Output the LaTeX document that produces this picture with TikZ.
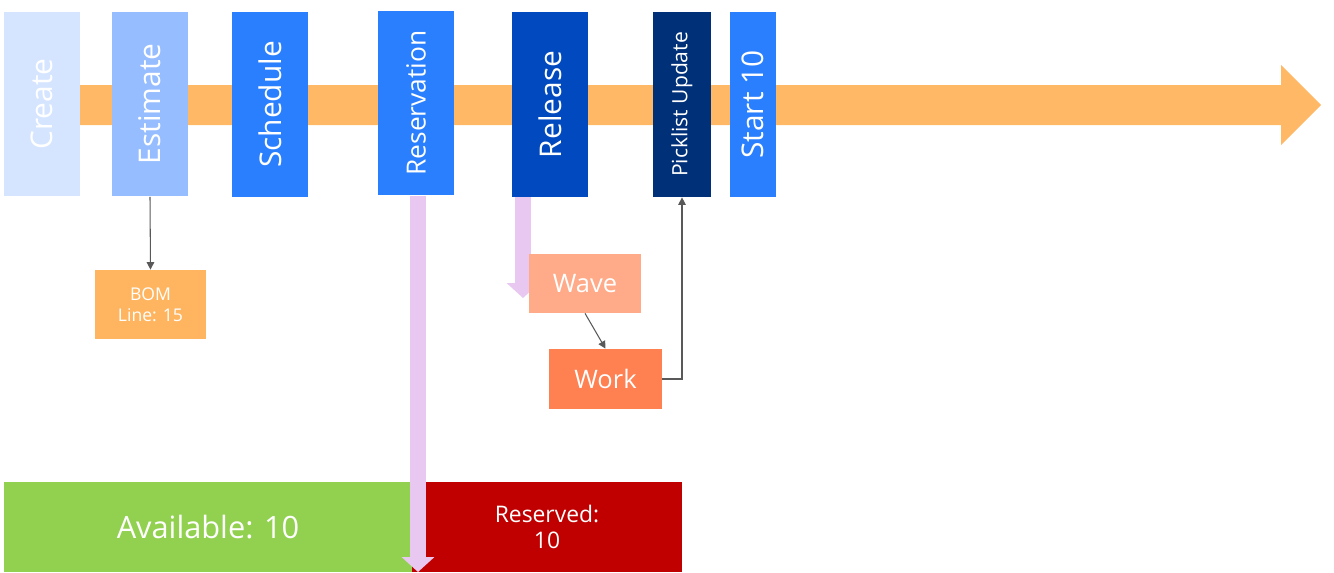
\documentclass[tikz,border=0pt]{standalone}
\usepackage{fontspec}
\setmainfont{Open Sans}
\usepackage{graphicx}
\usepackage{xcolor}
\usetikzlibrary{arrows.meta, positioning}

\definecolor{createblue}{HTML}{D5E5FF}
\definecolor{estblue}{HTML}{96BDFF}
\definecolor{midblue}{HTML}{2A7FFF}
\definecolor{relblue}{HTML}{0049BE}
\definecolor{navy}{HTML}{003078}
\definecolor{lineorange}{HTML}{FFB966}
\definecolor{bomorange}{HTML}{FFB55F}
\definecolor{wavesalmon}{HTML}{FFAA88}
\definecolor{workorange}{HTML}{FF8050}
\definecolor{availgreen}{HTML}{92D050}
\definecolor{resred}{HTML}{C00000}
\definecolor{lilac}{HTML}{E8C8F0}
\definecolor{linkgray}{HTML}{595959}

\begin{document}
\begin{tikzpicture}[
        x=0.02cm, y=-0.02cm,
        stage/.style={rectangle, minimum width=1.52cm, minimum height=3.7cm, inner sep=0pt, text=white, font=\fontsize{17}{20}\selectfont},
        task/.style={rectangle, inner sep=0pt, align=center, text=white, font=\fontsize{14.5}{17}\selectfont},
        stock/.style={rectangle, inner sep=0pt, minimum height=1.8cm, align=center, text=white},
        flow/.style={-{Triangle[width=0.64cm, length=0.3cm]}, line width=0.32cm, draw=lilac},
        link/.style={-{Triangle[width=1.5mm, length=1.5mm]}, semithick, draw=linkgray}
        ]
        \useasboundingbox (0,0) rectangle (1334,572);

        % Timeline arrow (Back)
        \fill [lineorange] (80,85) -- (1281,85) -- (1281,65) -- (1321,105) -- (1281,145) -- (1281,125) -- (80,125) -- cycle;

        % Order stages (Top)
        \node (create) [stage, fill=createblue] at (42,104) {\rotatebox{90}{Create}};
        \node (estimate) [stage, fill=estblue] at (150,104) {\rotatebox{90}{Estimate}};
        \node (schedule) [stage, fill=midblue] at (270,104.5) {\rotatebox{90}{Schedule}};
        \node (reserve) [stage, fill=midblue, font=\fontsize{15}{18}\selectfont] at (416,103) {\rotatebox{90}{Reservation}};
        \node (release) [stage, fill=relblue] at (550,104.5) {\rotatebox{90}{Release}};
        \node (picklist) [stage, fill=navy, minimum width=1.16cm, font=\fontsize{12}{14}\selectfont] at (682,104.5) {\rotatebox{90}{Picklist Update}};
        \node (start) [stage, fill=midblue, minimum width=0.92cm] at (753,104.5) {\rotatebox{90}{Start 10}};

        % Inventory (Bottom)
        \node (avail) [stock, fill=availgreen, minimum width=8.16cm, font=\fontsize{17.5}{20}\selectfont] at (208,527) {Available: 10};
        \node (reserved) [stock, fill=resred, minimum width=5.4cm, font=\fontsize{13}{15}\selectfont] at (547,527) {Reserved:\\10};

        % Reservation and release flows
        \coordinate (resend) at (418,572);
        \coordinate (relend) at (523,298);
        \draw [flow] (reserve.south -| resend) -- (resend);
        \draw [flow] (release.south -| relend) -- (relend);

        % Warehouse tasks
        \node (bom) [task, fill=bomorange, minimum width=2.22cm, minimum height=1.38cm, font=\fontsize{10}{12}\selectfont] at (150.5,304.5) {BOM\\Line: 15};
        \node (wave) [task, fill=wavesalmon, minimum width=2.24cm, minimum height=1.18cm] at (585,283.5) {Wave};
        \node (work) [task, fill=workorange, minimum width=2.26cm, minimum height=1.2cm] at (605.5,379) {Work};

        \draw [link] (estimate.south) -- (bom.north);
        \draw [link] (wave.south) -- (work.north);
        \draw [link] (work.east) -| (picklist.south);

    \end{tikzpicture}
\end{document}
